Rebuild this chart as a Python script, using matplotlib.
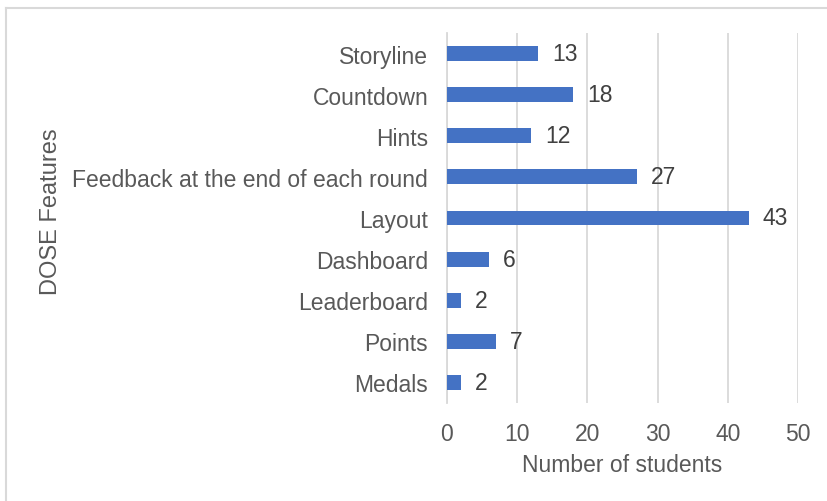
import matplotlib
matplotlib.use("Agg")
import matplotlib.pyplot as plt
from matplotlib.lines import Line2D

categories = ["Storyline", "Countdown", "Hints", "Feedback at the end of each round",
              "Layout", "Dashboard", "Leaderboard", "Points", "Medals"]
values = [13, 18, 12, 27, 43, 6, 2, 7, 2]
xticks = [0, 10, 20, 30, 40, 50]

plt.rcParams['font.family'] = ['Liberation Sans', 'DejaVu Sans']
txt = '#595959'
fs = 16.5

fig = plt.figure(figsize=(8.28, 5.02), dpi=100)
ax = fig.add_axes([447/828, 1-404/502, (798-447)/828, (404-34)/502])

ypos = list(range(len(categories)))[::-1]
ax.barh(ypos, values, height=0.36, color='#4472C4', zorder=3)
for y, v in zip(ypos, values):
    ax.text(v + 2.0, y, str(v), va='center', ha='left', fontsize=fs, color='#404040')

ax.set_xlim(0, 50)
ax.set_ylim(-0.5, len(categories) - 0.5)
ax.set_yticks(ypos)
ax.set_yticklabels(categories, fontsize=fs, color=txt)
ax.set_xticks(xticks)
ax.set_xticklabels([str(t) for t in xticks], fontsize=fs, color=txt)
ax.tick_params(axis='both', length=0)
ax.tick_params(axis='x', pad=14)
ax.tick_params(axis='y', pad=13.5)
ax.grid(axis='x', color='#D9D9D9', linewidth=1.3, zorder=0)
for s in ['top', 'right', 'bottom']:
    ax.spines[s].set_visible(False)
ax.spines['left'].set_color('#D9D9D9')
ax.spines['left'].set_linewidth(1.3)

fig.text(622/828, 1-466/502, "Number of students", ha='center', va='center', fontsize=fs, color=txt)
fig.text(51/828, 1-212/502, "DOSE Features", ha='center', va='center', rotation=90, fontsize=17, color=txt)

# outer chart border (top and left visible)
fig.add_artist(Line2D([6.5/828, 1.0], [1-8.5/502, 1-8.5/502], transform=fig.transFigure, color='#D9D9D9', linewidth=1.5))
fig.add_artist(Line2D([6.5/828, 6.5/828], [1-8.5/502, 0.0], transform=fig.transFigure, color='#D9D9D9', linewidth=1.5))

fig.savefig("out.png", dpi=100)
